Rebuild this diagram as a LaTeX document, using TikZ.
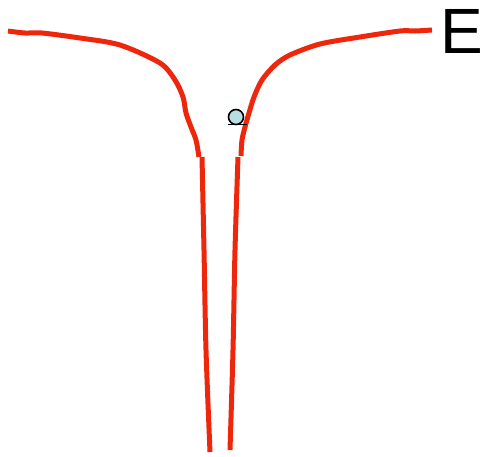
\documentclass[tikz,border=0pt]{standalone}
\usepackage{fontspec}
\setmainfont{Liberation Sans}
\definecolor{wallred}{RGB}{238,38,12}
\definecolor{ballblue}{RGB}{184,222,226}
\begin{document}
\begin{tikzpicture}[x=1pt,y=-1pt,
  wall/.style={draw=wallred,line width=5pt,line join=round},
  ball/.style={circle,draw=black,line width=1.6pt,fill=ballblue,minimum size=15pt,inner sep=0pt}]
\useasboundingbox (0,0) rectangle (482,456);
% left upper wall
\draw[wall] plot[smooth,tension=0.5] coordinates {(8,31) (25,33) (42,33) (80,38) (120,45) (160,63) (175,80) (183,97) (186,113) (191,127) (196,140) (199,157)};
% right upper wall
\draw[wall] plot[smooth,tension=0.5] coordinates {(432,30) (415,31) (400,31) (360,37) (320,44) (290,55) (275,65) (262,80) (254,97) (249,113) (245,127) (242,140) (241,156)};
% left lower wall
\draw[wall] plot[smooth,tension=0.5] coordinates {(202,157) (204,250) (206,350) (210,452)};
% right lower wall
\draw[wall] plot[smooth,tension=0.5] coordinates {(238,157) (235,250) (233,350) (230,450)};
% ball
\node[ball] (b) at (236,117) {};
\coordinate (gl) at (228,124.5);
\coordinate (gr) at (247,124.5);
\draw[line width=1.6pt] (gl) -- (gr);
% label
\node[anchor=base west,inner sep=0pt,font=\fontsize{64}{64}\selectfont] (E) at (440,53) {E};
\end{tikzpicture}
\end{document}
